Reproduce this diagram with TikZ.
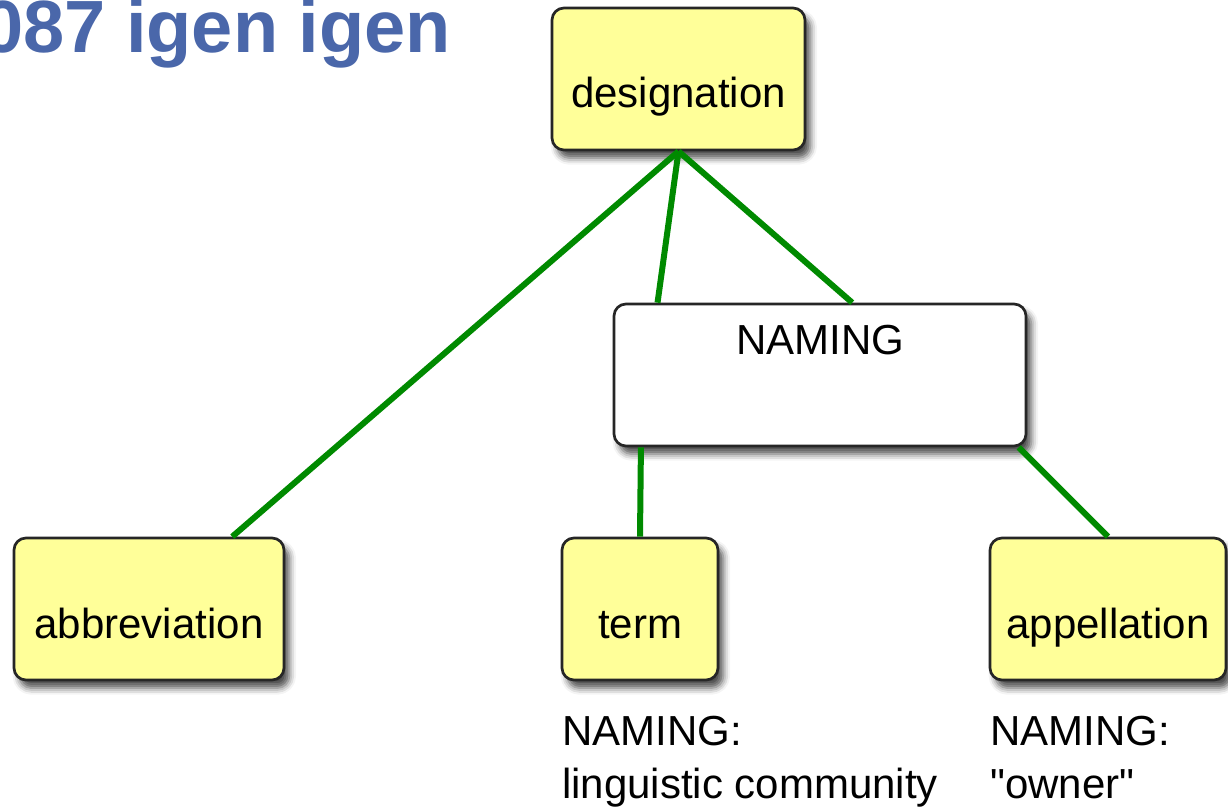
\documentclass[tikz,border=0pt]{standalone}
\usepackage{fontspec}
\setmainfont{Liberation Sans}
\usepackage{tikz}
\usetikzlibrary{shadows.blur}

\definecolor{boxyellow}{HTML}{FFFF99}
\definecolor{linkgreen}{HTML}{008A00}
\definecolor{titleblue}{HTML}{4A67AA}

\begin{document}
\begin{tikzpicture}[x=0.75pt,y=0.75pt,
    concept/.style={draw=black!85, line width=2pt, rounded corners=9pt,
        fill=boxyellow, minimum height=106.5pt, inner sep=0pt,
        text height=43.5pt, text depth=0pt,
        font=\fontsize{31.5}{36}\selectfont,
        blur shadow={shadow xshift=4pt, shadow yshift=-6pt,
            shadow blur radius=5pt, shadow opacity=70}},
    link/.style={linkgreen, line width=4.5pt}]
    \useasboundingbox (0,0) rectangle (1228,811);

    % title, cut off at the left edge
    \node[anchor=base west, inner sep=0pt, text=titleblue,
          font=\fontsize{55.5}{60}\selectfont\bfseries] (title) at (-18,758) {087 igen igen};

    % the boxes
    \node[concept, minimum width=189.75pt] (designation) at (678.5,732) {designation};
    \node[concept, fill=white, minimum width=309pt,
          text height=0pt, text depth=30pt] (naming) at (820,436) {NAMING};
    \node[concept, minimum width=202.5pt] (abbreviation) at (149,202) {abbreviation};
    \node[concept, minimum width=117pt] (term) at (640,202) {term};
    \node[concept, minimum width=177pt] (appellation) at (1108,202) {appellation};

    % notes under the boxes
    \node[anchor=north west, inner sep=0pt, align=left,
          font=\fontsize{31.5}{39.75}\selectfont] (termnote) at (562,95) {NAMING:\\linguistic community};
    \node[anchor=north west, inner sep=0pt, align=left,
          font=\fontsize{31.5}{39.75}\selectfont] (appelnote) at (990,95) {NAMING:\\\textquotedbl owner\textquotedbl};

    % links
    \draw[link] (designation.south) -- (abbreviation.41);
    \draw[link] (designation.south) -- (naming.156);
    \draw[link] (designation.south) -- (naming.66);
    \draw[link] (naming.202) -- (term.north);
    \draw[link] (naming.-20) -- (appellation.north);
\end{tikzpicture}
\end{document}
